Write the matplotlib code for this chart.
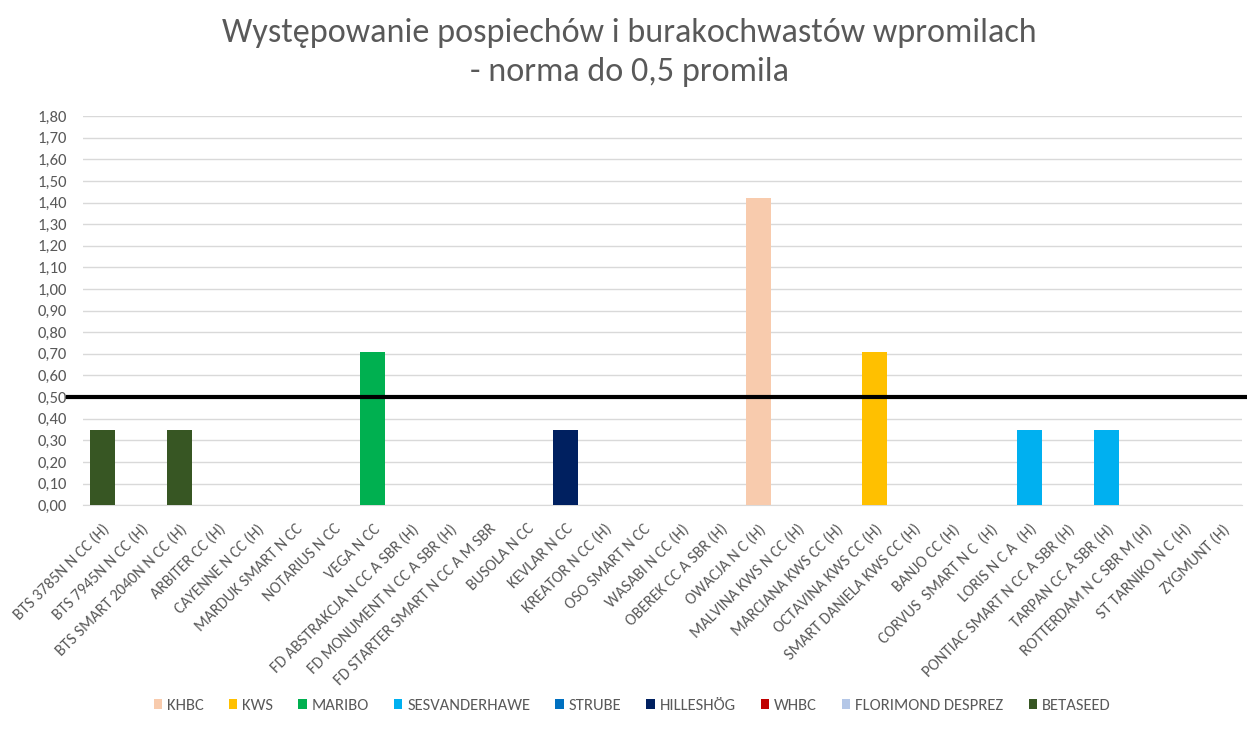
import matplotlib
matplotlib.use("Agg")
import matplotlib.pyplot as plt
from matplotlib.patches import Patch
from matplotlib.ticker import FuncFormatter, MultipleLocator

plt.rcParams['font.family'] = ['Carlito', 'Liberation Sans', 'DejaVu Sans']

categories = [
    "BTS 3785N N CC (H)", "BTS 7945N N CC (H)", "BTS SMART 2040N N CC (H)",
    "ARBITER CC (H)", "CAYENNE N CC (H)", "MARDUK SMART N CC", "NOTARIUS N CC",
    "VEGA N CC", "FD ABSTRAKCJA N CC A SBR (H)", "FD MONUMENT N CC A SBR (H)",
    "FD STARTER SMART N CC A M SBR", "BUSOLA N CC", "KEVLAR N CC",
    "KREATOR N CC (H)", "OSO SMART N CC", "WASABI N CC (H)", "OBEREK CC A SBR (H)",
    "OWACJA N C (H)", "MALVINA KWS N CC (H)", "MARCIANA KWS CC (H)",
    "OCTAVINA KWS CC (H)", "SMART DANIELA KWS CC (H)", "BANJO CC (H)",
    "CORVUS  SMART N C  (H)", "LORIS N C A  (H)", "PONTIAC SMART N CC A SBR (H)",
    "TARPAN CC A SBR (H)", "ROTTERDAM N C SBR M (H)", "ST TARNIKO N C (H)",
    "ZYGMUNT (H)",
]
values = [
    0.35, 0, 0.35, 0, 0, 0, 0, 0.71, 0, 0,
    0, 0, 0.35, 0, 0, 0, 0, 1.42, 0, 0,
    0.71, 0, 0, 0, 0.35, 0, 0.35, 0, 0, 0,
]
companies = [
    "BETASEED", "BETASEED", "BETASEED", "MARIBO", "MARIBO", "MARIBO", "MARIBO",
    "MARIBO", "FLORIMOND DESPREZ", "FLORIMOND DESPREZ", "FLORIMOND DESPREZ",
    "HILLESHÖG", "HILLESHÖG", "HILLESHÖG", "KHBC", "KHBC", "KHBC", "KHBC",
    "KWS", "KWS", "KWS", "KWS", "SESVANDERHAWE", "SESVANDERHAWE",
    "SESVANDERHAWE", "SESVANDERHAWE", "SESVANDERHAWE", "STRUBE", "STRUBE", "WHBC",
]
legend_names = ["KHBC", "KWS", "MARIBO", "SESVANDERHAWE", "STRUBE", "HILLESHÖG",
                "WHBC", "FLORIMOND DESPREZ", "BETASEED"]
legend_colors = ["#F8CBAD", "#FFC000", "#00B050", "#00B0F0", "#0070C0", "#002060",
                 "#C00000", "#B4C7E7", "#375623"]
norm_value = 0.5
title = "Występowanie pospiechów i burakochwastów wpromilach\n- norma do 0,5 promila"

TXT = "#595959"
fig = plt.figure(figsize=(12.47, 7.30), dpi=100)
ax = fig.add_axes([0.0667, 0.308, 0.929, 0.533])

x = list(range(len(categories)))
for name, col in zip(legend_names, legend_colors):
    h = [v if c == name else 0 for v, c in zip(values, companies)]
    ax.bar(x, h, width=0.65, color=col, zorder=3)

ax.set_xlim(-0.5, len(categories) - 0.5)
ax.set_ylim(0, 1.8)
ax.yaxis.set_major_locator(MultipleLocator(0.1))
ax.yaxis.set_major_formatter(FuncFormatter(lambda v, p: f"{v:.2f}".replace(".", ",")))
ax.grid(axis='y', color='#D9D9D9', linewidth=1, zorder=0)
ax.set_axisbelow(True)
for s in ['top', 'right', 'left']:
    ax.spines[s].set_visible(False)
ax.spines['bottom'].set_color('#D9D9D9')
ax.tick_params(axis='both', length=0, colors=TXT, labelsize=12)
ax.tick_params(axis='y', pad=12)
ax.set_xticks(x)
ax.set_xticklabels(categories, rotation=45, ha='right', rotation_mode='anchor',
                   fontsize=11.5, color=TXT)
ax.tick_params(axis='x', pad=12)

ax.plot([-0.013, 1.005], [norm_value, norm_value], color='black', linewidth=3.0,
        transform=ax.get_yaxis_transform(), clip_on=False, zorder=5)

fig.text(0.505, 0.975, title, ha='center', va='top', fontsize=24.6, color=TXT,
         linespacing=1.38)

handles = [Patch(facecolor=c, edgecolor='none') for c in legend_colors]
fig.legend(handles, legend_names, loc='center', bbox_to_anchor=(0.507, 0.033),
           ncol=9, frameon=False, fontsize=12, labelcolor=TXT,
           handlelength=0.5, handleheight=0.5, handletextpad=0.3, columnspacing=1.5)

fig.savefig("out.png", dpi=100)
